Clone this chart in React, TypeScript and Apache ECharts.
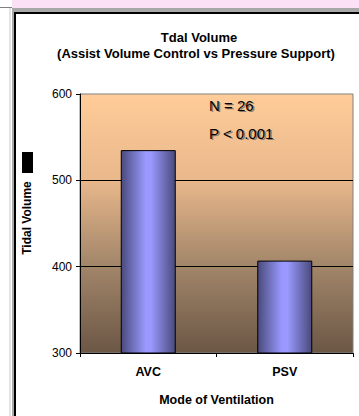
import React, { useEffect, useRef } from "react";
import * as echarts from "echarts";

const categories = ["AVC", "PSV"];
const tidalVolume = [535, 407];
const yTicks = { min: 300, max: 600, interval: 100 };
const titleText = "Tdal Volume";
const subtitleText = "(Assist Volume Control vs Pressure Support)";
const annotations = ["N = 26", "P < 0.001"];

export default function App() {
  const ref = useRef<HTMLDivElement>(null);
  useEffect(() => {
    if (!ref.current) return;
    const chart = echarts.init(ref.current, null, { renderer: "svg" });
    const font = "Arial, 'Liberation Sans', sans-serif";
    const annot = (text: string, y: number) => [
      {
        type: "text",
        x: 210.5,
        y: y + 1.5,
        z: 99,
        silent: true,
        style: { text, fill: "#8a7a6a", font: `15px ${font}`, align: "left", verticalAlign: "middle" },
      },
      {
        type: "text",
        x: 209,
        y,
        z: 100,
        silent: true,
        style: { text, fill: "#000", font: `15px ${font}`, align: "left", verticalAlign: "middle" },
      },
    ];
    chart.setOption({
      animation: false,
      backgroundColor: "#ffffff",
      grid: {
        left: 80,
        top: 94,
        right: 6,
        bottom: 63,
        show: true,
        borderColor: "#808080",
        borderWidth: 1,
        backgroundColor: new echarts.graphic.LinearGradient(0, 0, 0, 1, [
          { offset: 0, color: "#FFCC99" },
          { offset: 0.33, color: "#E9B88B" },
          { offset: 0.66, color: "#A2866A" },
          { offset: 1, color: "#6B5745" },
        ]),
      },
      xAxis: {
        type: "category",
        data: categories,
        axisLine: { lineStyle: { color: "#000", width: 1 } },
        axisTick: { show: true, length: 4, lineStyle: { color: "#000" } },
        axisLabel: {
          color: "#000",
          fontFamily: font,
          fontWeight: "bold",
          fontSize: 12.5,
          margin: 12,
        },
        name: "Mode of Ventilation",
        nameLocation: "middle",
        nameGap: 40,
        nameTextStyle: {
          color: "#000",
          fontFamily: font,
          fontWeight: "bold",
          fontSize: 12.5,
        },
      },
      yAxis: {
        type: "value",
        min: yTicks.min,
        max: yTicks.max,
        interval: yTicks.interval,
        axisLine: { show: true, lineStyle: { color: "#000", width: 1 } },
        axisTick: { show: true, length: 4, lineStyle: { color: "#000" } },
        axisLabel: {
          color: "#000",
          fontFamily: font,
          fontSize: 12,
          margin: 8,
        },
        splitLine: {
          show: true,
          showMinLine: false,
          showMaxLine: false,
          lineStyle: { color: "#000", width: 1 },
        },
      },
      series: [
        {
          type: "bar",
          data: tidalVolume,
          barWidth: 55,
          itemStyle: {
            color: new echarts.graphic.LinearGradient(0, 0, 1, 0, [
              { offset: 0, color: "#4A4A7C" },
              { offset: 0.45, color: "#9999FF" },
              { offset: 0.55, color: "#9999FF" },
              { offset: 1, color: "#4A4A7C" },
            ]),
            borderColor: "#000",
            borderWidth: 1,
          },
        },
      ],
      graphic: [
        { type: "rect", shape: { x: 12, y: 0, width: 347, height: 8 }, style: { fill: "#FBE0F6" }, silent: true },
        { type: "rect", shape: { x: 0, y: 7, width: 12, height: 1 }, style: { fill: "#808080" }, silent: true },
        { type: "rect", shape: { x: 12, y: 8, width: 347, height: 4 }, style: { fill: "#A8A8A8" }, silent: true },
        { type: "rect", shape: { x: 12, y: 8, width: 3, height: 408 }, style: { fill: "#A8A8A8" }, silent: true },
        { type: "rect", shape: { x: 9, y: 8, width: 2, height: 408 }, style: { fill: "#E4E4E4" }, silent: true },
        { type: "rect", shape: { x: 14, y: 12, width: 345, height: 2 }, style: { fill: "#000" }, silent: true },
        { type: "rect", shape: { x: 14, y: 12, width: 2, height: 404 }, style: { fill: "#000" }, silent: true },
        {
          type: "text",
          x: 199,
          y: 37,
          style: { text: titleText, fill: "#000", font: `bold 13px ${font}`, align: "center", verticalAlign: "middle" },
        },
        {
          type: "text",
          x: 196,
          y: 53,
          style: { text: subtitleText, fill: "#000", font: `bold 13px ${font}`, align: "center", verticalAlign: "middle" },
        },
        {
          type: "text",
          x: 27,
          y: 218,
          rotation: Math.PI / 2,
          style: { text: "Tidal Volume", fill: "#000", font: `bold 12px ${font}`, align: "center", verticalAlign: "middle" },
        },
        { type: "rect", shape: { x: 22, y: 152, width: 11, height: 21 }, style: { fill: "#000" }, silent: true },
        ...annot(annotations[0], 105),
        ...annot(annotations[1], 133),
      ],
    });
    return () => chart.dispose();
  }, []);
  return (
    <div
      ref={ref}
      style={{ position: "fixed", left: 0, top: 0, width: 359, height: 416 }}
    />
  );
}
